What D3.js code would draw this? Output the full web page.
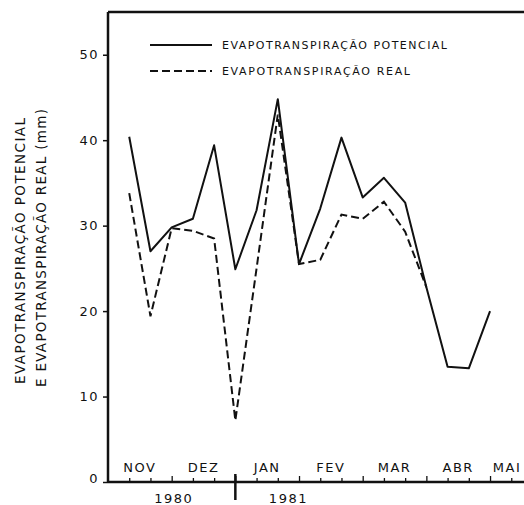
<!DOCTYPE html>
<html>
<head>
<meta charset="utf-8">
<script src="https://cdn.jsdelivr.net/npm/d3@7"></script>
<style>
  body { margin: 0; background: #fff; }
  text { font-family: "DejaVu Sans", sans-serif; fill: #111; }
</style>
</head>
<body>
<svg class="chart" width="524" height="505"></svg>
<script>
let width = 524, height = 505;
let marginLeft = 108, marginTop = 12, axisY = 482;

// decendios (periodos de 10 dias) a partir de 1 de novembro de 1980
const potencial = [40.4, 27.0, 29.8, 30.8, 39.4, 24.9, 31.8, 44.8, 25.5, 32.0, 40.3, 33.3, 35.6, 32.7, 22.8, 13.5, 13.3, 20.0];
const real = [33.8, 19.4, 29.7, 29.4, 28.5, 7.2, 25.0, 43.0, 25.5, 26.0, 31.3, 30.8, 32.8, 29.3, 22.8];
const months = ["NOV", "DEZ", "JAN", "FEV", "MAR", "ABR", "MAI"];
const years = [{label: "1980", at: 3.1}, {label: "1981", at: 8.5}];
const yTicks = [0, 10, 20, 30, 40, 50];
const legendItems = [
  {label: "EVAPOTRANSPIRAÇÃO POTENCIAL", dash: null, len: 225},
  {label: "EVAPOTRANSPIRAÇÃO REAL", dash: "8,4", len: 188}
];

const svg = d3.select(".chart");

const x = d3.scaleLinear().domain([0, 19.6]).range([marginLeft, width]);
const y = d3.scaleLinear().domain([0, 55]).range([axisY, marginTop]);

// eixo Y
const yAxis = d3.axisLeft(y).tickValues(yTicks).tickSize(5).tickPadding(4);
const gy = svg.append("g")
  .attr("transform", `translate(${marginLeft},0)`)
  .call(yAxis);
gy.select(".domain").remove();
gy.selectAll("line").attr("stroke", "#111").attr("stroke-width", 1.5);
gy.selectAll("text")
  .style("font-size", "13px")
  .attr("letter-spacing", 1.5)
  .attr("dy", d => d === 0 ? "0.05em" : "0.32em");

// bordas
svg.append("line").attr("x1", marginLeft).attr("x2", marginLeft).attr("y1", marginTop).attr("y2", axisY + 1)
  .attr("stroke", "#111").attr("stroke-width", 2.5);
svg.append("line").attr("x1", marginLeft).attr("x2", width).attr("y1", marginTop).attr("y2", marginTop)
  .attr("stroke", "#111").attr("stroke-width", 2.5);

// eixo X: decendios
const xAxis = d3.axisTop(x).tickValues(d3.range(1, 20)).tickSize(4).tickFormat("");
const gx = svg.append("g")
  .attr("transform", `translate(0,${axisY})`)
  .call(xAxis);
gx.select(".domain").remove();
gx.selectAll(".tick line")
  .attr("stroke", "#111").attr("stroke-width", 1.3)
  .attr("y2", d => d % 3 === 0 ? -6 : -4);
svg.append("line").attr("x1", marginLeft).attr("x2", width).attr("y1", axisY).attr("y2", axisY)
  .attr("stroke", "#111").attr("stroke-width", 2.5);

// divisao de ano
svg.append("line").attr("x1", x(6)).attr("x2", x(6)).attr("y1", axisY - 8).attr("y2", axisY + 18)
  .attr("stroke", "#111").attr("stroke-width", 2.5);

svg.append("g").selectAll("text")
  .data(months)
  .enter()
  .append("text")
  .attr("x", (d, i) => Math.min(x(i * 3 + 1.5), width - 17))
  .attr("y", 472)
  .attr("text-anchor", "middle")
  .style("font-size", "13px")
  .attr("letter-spacing", 1.5)
  .text(d => d);

svg.append("g").selectAll("text")
  .data(years)
  .enter()
  .append("text")
  .attr("x", d => x(d.at))
  .attr("y", 503)
  .attr("text-anchor", "middle")
  .style("font-size", "13px")
  .attr("letter-spacing", 1.5)
  .text(d => d.label);

// titulo Y
const yTitle = ["EVAPOTRANSPIRAÇÃO  POTENCIAL", "E EVAPOTRANSPIRAÇÃO  REAL (mm)"];
svg.append("g").selectAll("text")
  .data(yTitle)
  .enter()
  .append("text")
  .attr("transform", (d, i) => `translate(${i === 0 ? 25 : 46},${i === 0 ? 251 : 248}) rotate(-90)`)
  .attr("text-anchor", "middle")
  .attr("textLength", (d, i) => i === 0 ? 266 : 278)
  .attr("lengthAdjust", "spacing")
  .style("font-size", "13.5px")
  .text(d => d);

// linhas
const line = d3.line()
  .x((d, i) => x(i + 1))
  .y(d => y(d));

svg.append("path")
  .datum(potencial)
  .attr("d", line)
  .attr("fill", "none")
  .attr("stroke", "#111")
  .attr("stroke-width", 2)
  .attr("stroke-linejoin", "round");

svg.append("path")
  .datum(real)
  .attr("d", line)
  .attr("fill", "none")
  .attr("stroke", "#111")
  .attr("stroke-width", 2)
  .attr("stroke-dasharray", "8,4");

// legenda
const legend = svg.append("g").selectAll("g")
  .data(legendItems)
  .enter()
  .append("g")
  .attr("transform", (d, i) => `translate(150,${45 + i * 26})`);

legend.append("line")
  .attr("x1", 0).attr("x2", 62)
  .attr("stroke", "#111").attr("stroke-width", 2)
  .attr("stroke-dasharray", d => d.dash);

legend.append("text")
  .attr("x", 72)
  .attr("dy", "0.35em")
  .attr("textLength", d => d.len)
  .attr("lengthAdjust", "spacing")
  .style("font-size", "11px")
  .text(d => d.label);
</script>
</body>
</html>
